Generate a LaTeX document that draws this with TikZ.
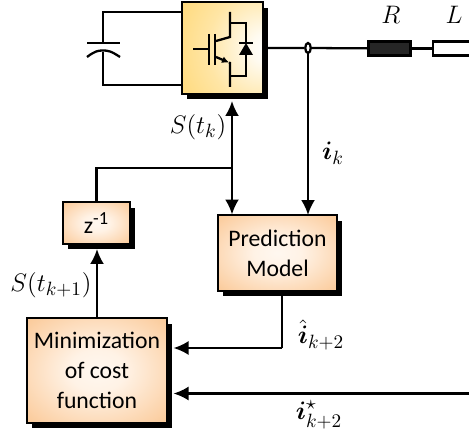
\documentclass[tikz,border=0pt]{standalone}
\usepackage{fontspec}
\usepackage{amsmath}
\usepackage{bm}
\newfontfamily\boxfont{Carlito}
\DeclareMathSizes{13.5}{13.5}{10.5}{8}
\usetikzlibrary{arrows.meta,backgrounds,calc,shapes.geometric}
\definecolor{boxorange}{RGB}{250,194,138}
\definecolor{igbtgold}{RGB}{255,204,76}
\pgfdeclareradialshading{blockshade}{\pgfpoint{0bp}{0bp}}{
  color(0bp)=(orange!6!white); color(10bp)=(orange!10!white);
  color(40bp)=(boxorange); color(100bp)=(boxorange)}
\pgfdeclareradialshading{igbtshade}{\pgfpoint{28bp}{0bp}}{
  color(0bp)=(white); color(8bp)=(igbtgold!8!white);
  color(30bp)=(igbtgold!50!white); color(55bp)=(igbtgold!80!white); color(72bp)=(igbtgold); color(120bp)=(igbtgold)}
\tikzset{
  wire/.style={line width=1.3pt, black},
  sig/.style={wire, -{Latex[length=0.3cm,width=0.28cm]}},
  block/.style={draw=black, line width=1.3pt, shading=blockshade, outer sep=0pt, inner sep=0pt,
    align=center, text=black, font=\boxfont\fontsize{13.5}{17}\selectfont},
  lab/.style={font=\fontsize{13.5}{16}\selectfont, inner sep=0pt}
}
\begin{document}
\begin{tikzpicture}[x=0.02cm, y=-0.02cm]
    \useasboundingbox (0,0) rectangle (469,435);

    % Blocks
    \node[block, shading=igbtshade, minimum width=1.62cm, minimum height=1.84cm] (igbt) at (222.5,48) {};
    \node[block, minimum width=1.35cm, minimum height=0.84cm] (delay) at (96.5,223) {z\textsuperscript{-1}};
    \node[block, minimum width=2.38cm, minimum height=1.52cm] (pred) at (277.5,253) {Prediction\\Model};
    \node[block, minimum width=2.8cm, minimum height=2.1cm] (cost) at (97,370.5) {Minimization\\of cost\\function};

    % Shadows
    \begin{scope}[on background layer]
        \foreach \n in {igbt,delay,pred,cost}
            \fill[black] ($(\n.north west)+(5,5.5)$) rectangle ($(\n.south east)+(5,5.5)$);
    \end{scope}

    % Load
    \node[draw=black, fill=black!85, line width=1.3pt, minimum width=0.84cm, minimum height=0.28cm, inner sep=0pt] (res) at (389.5,48.5) {};
    \node[draw=black, fill=white, line width=1.3pt, minimum width=1.2cm, minimum height=0.28cm, inner sep=0pt, anchor=west] (ind) at (431.5,48.5) {};
    \node[lab] (rlab) at (391,15) {$R$};
    \node[lab] (llab) at (454,15) {$L$};
    \node[draw=black, fill=white, line width=1.3pt, ellipse, minimum width=0.11cm, minimum height=0.2cm, inner sep=0pt] (sense) at (308,48) {};
    \draw[wire] (igbt.east |- sense) -- (sense) -- (res);
    \draw[wire] (res) -- (ind);

    % Capacitor
    \coordinate (capt) at (103,43);
    \coordinate (capb) at (103,52);
    \draw[wire] (capt) -- (103,12) -- (igbt.west |- 103,12);
    \draw[wire] (capb) -- (103,85) -- (igbt.west |- 103,85);
    \draw[wire] (87,43) -- (120,43);
    \draw[wire] (87,57) .. controls (95,51) and (98,50.5) .. (103,50.5) .. controls (108,50.5) and (111,51) .. (120,57);

    % Switch
    \draw[wire] (193,49) -- (208,49);
    \draw[wire] (209,34) -- (209,65);
    \draw[wire] (215,34) -- (215,65);
    \draw[wire] (230,12) -- (230,37) -- (216,41);
    \draw[wire, -{Latex[length=0.14cm,width=0.14cm]}] (216,57) -- (229,62.5);
    \draw[wire] (229,62.5) -- (230,63) -- (230,87);
    \draw[wire] (230,23) -- (246,23) -- (246,43);
    \draw[wire] (230,76) -- (246,76) -- (246,55);
    \draw[wire] (239,43) -- (253,43);
    \fill[black] (239,55) -- (253,55) -- (246,43) -- cycle;

    % Signals
    \coordinate (branch) at (232,168);
    \draw[wire] (delay.north) -- (delay.north |- branch) -- (branch);
    \draw[sig] (branch) -- (232,101);
    \draw[sig] (branch) -- (232,214.5);
    \draw[sig] (sense) -- (sense |- pred.north);
    \draw[sig] (cost.north) -- (97,249);
    \draw[wire] (282,296) -- (282,348);
    \draw[sig] (282,348) -- (173.5,348);
    \coordinate (ref) at (469,393.5);
    \draw[sig] (ref) -- (173.5,393.5);

    % Labels
    \node[lab] (stk) at (198,127) {$S(t_k)$};
    \node[lab] (stk1) at (51,285) {$S(t_{k+1})$};
    \node[lab] (ik) at (333,153) {$\bm{i}_k$};
    \node[lab] (ihat) at (321,335) {$\hat{\bm{i}}_{k+2}$};
    \node[lab] (iref) at (319,415) {$\bm{i}^\star_{k+2}$};
\end{tikzpicture}
\end{document}
